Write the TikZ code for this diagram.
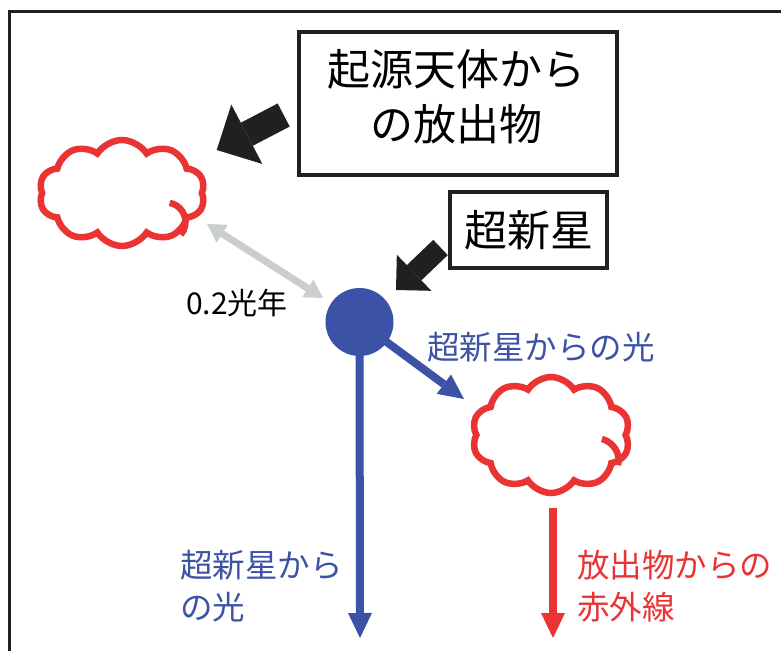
\documentclass[tikz,border=0pt]{standalone}
\usepackage{fontspec}
\setmainfont{Noto Sans CJK JP}
\usetikzlibrary{shapes.symbols,arrows.meta}
\definecolor{cred}{RGB}{234,52,52}
\definecolor{cblue}{RGB}{60,82,166}
\definecolor{cgray}{RGB}{202,206,206}
\definecolor{cdark}{RGB}{32,32,32}
\tikzset{
  lbox/.style={draw=cdark, line width=3.5pt, fill=white, inner sep=0pt},
  puff/.style={cloud, cloud puffs=10, cloud puff arc=115, draw=cred, line width=6.5pt, inner sep=0pt},
  curl/.style={draw=cred, line width=6.5pt},
  callout/.style={draw=cdark, line width=#1},
  bluearrow/.style={draw=cblue, line width=8pt, -{Triangle[length=25pt,width=24pt,line width=0pt]}},
  redarrow/.style={draw=cred, line width=8pt, -{Triangle[length=25pt,width=24pt,line width=0pt]}},
  bluetext/.style={text=cblue, inner sep=0pt, align=left},
}
\begin{document}
\begin{tikzpicture}[x=1pt,y=-1pt]
\useasboundingbox (0,0) rectangle (781,650);
\clip (0,0) rectangle (781,650);
\fill[white] (0,0) rectangle (781,650);
% frame
\draw[cdark, line width=3.5pt] (9.5,700) -- (9.5,11.5) -- (800,11.5);

% clouds
\node[puff, minimum width=166pt, minimum height=106pt, aspect=1.55] (c1) at (122,193) {};
\draw[curl] (166,222) ++(-79:19.5) arc[start angle=-79, end angle=41, radius=19.5];
\node[puff, minimum width=158pt, minimum height=116pt, aspect=1.35] (c2) at (551,435) {};
\draw[curl] (597,460) ++(-77:21.5) arc[start angle=-77, end angle=14, radius=21.5];

% boxes
\node[lbox, minimum width=318pt, minimum height=143pt] (b1) at (458,103.5) {};
\node[font=\fontsize{43}{55}\selectfont, align=center, inner sep=0pt] (t1) at (456,97) {起源天体から\\の放出物};
\node[lbox, minimum width=157pt, minimum height=76pt, font=\fontsize{43}{50}\selectfont] (b2) at (528.5,230) {超新星};

% callout arrows
\coordinate (a1s) at (283.7,115);
\coordinate (a1e) at (216.7,150);
\draw[callout=26pt, -{Triangle[length=34pt,width=67pt,line width=0pt]}] (a1s) -- (a1e);
\coordinate (a2s) at (440.5,247.5);
\coordinate (a2e) at (396,290);
\draw[callout=21pt, -{Triangle[length=25pt,width=50pt,line width=0pt]}] (a2s) -- (a2e);

% supernova
\coordinate (bend) at (360,638);
\coordinate (dend) at (464,399);
\draw[bluearrow] (359.5,322) -- (bend);
\draw[bluearrow] (359.5,322) -- (dend);
\node[circle, fill=cblue, minimum size=68pt, inner sep=0pt] (sn) at (359.5,322) {};

% gray distance arrow
\coordinate (g1) at (207,224);
\coordinate (g2) at (323,298);
\draw[cgray, line width=7pt, {Triangle[length=18pt,width=21pt,line width=0pt]}-{Triangle[length=18pt,width=21pt,line width=0pt]}] (g1) -- (g2);

% red arrow
\coordinate (rs) at (553,508);
\coordinate (re) at (553,638);
\draw[redarrow] (rs) -- (re);

% labels
\node[font=\fontsize{30}{34}\selectfont, inner sep=0pt] (l0) at (237,303) {0.2光年};
\node[bluetext, font=\fontsize{32.5}{42}\selectfont] (l1) at (541,347) {超新星からの光};
\node[bluetext, font=\fontsize{32.5}{42}\selectfont, anchor=west] (l2) at (180,586) {超新星から\\の光};
\node[text=cred, inner sep=0pt, align=left, font=\fontsize{32.5}{42}\selectfont, anchor=west] (l3) at (577,586) {放出物からの\\赤外線};
\end{tikzpicture}
\end{document}
